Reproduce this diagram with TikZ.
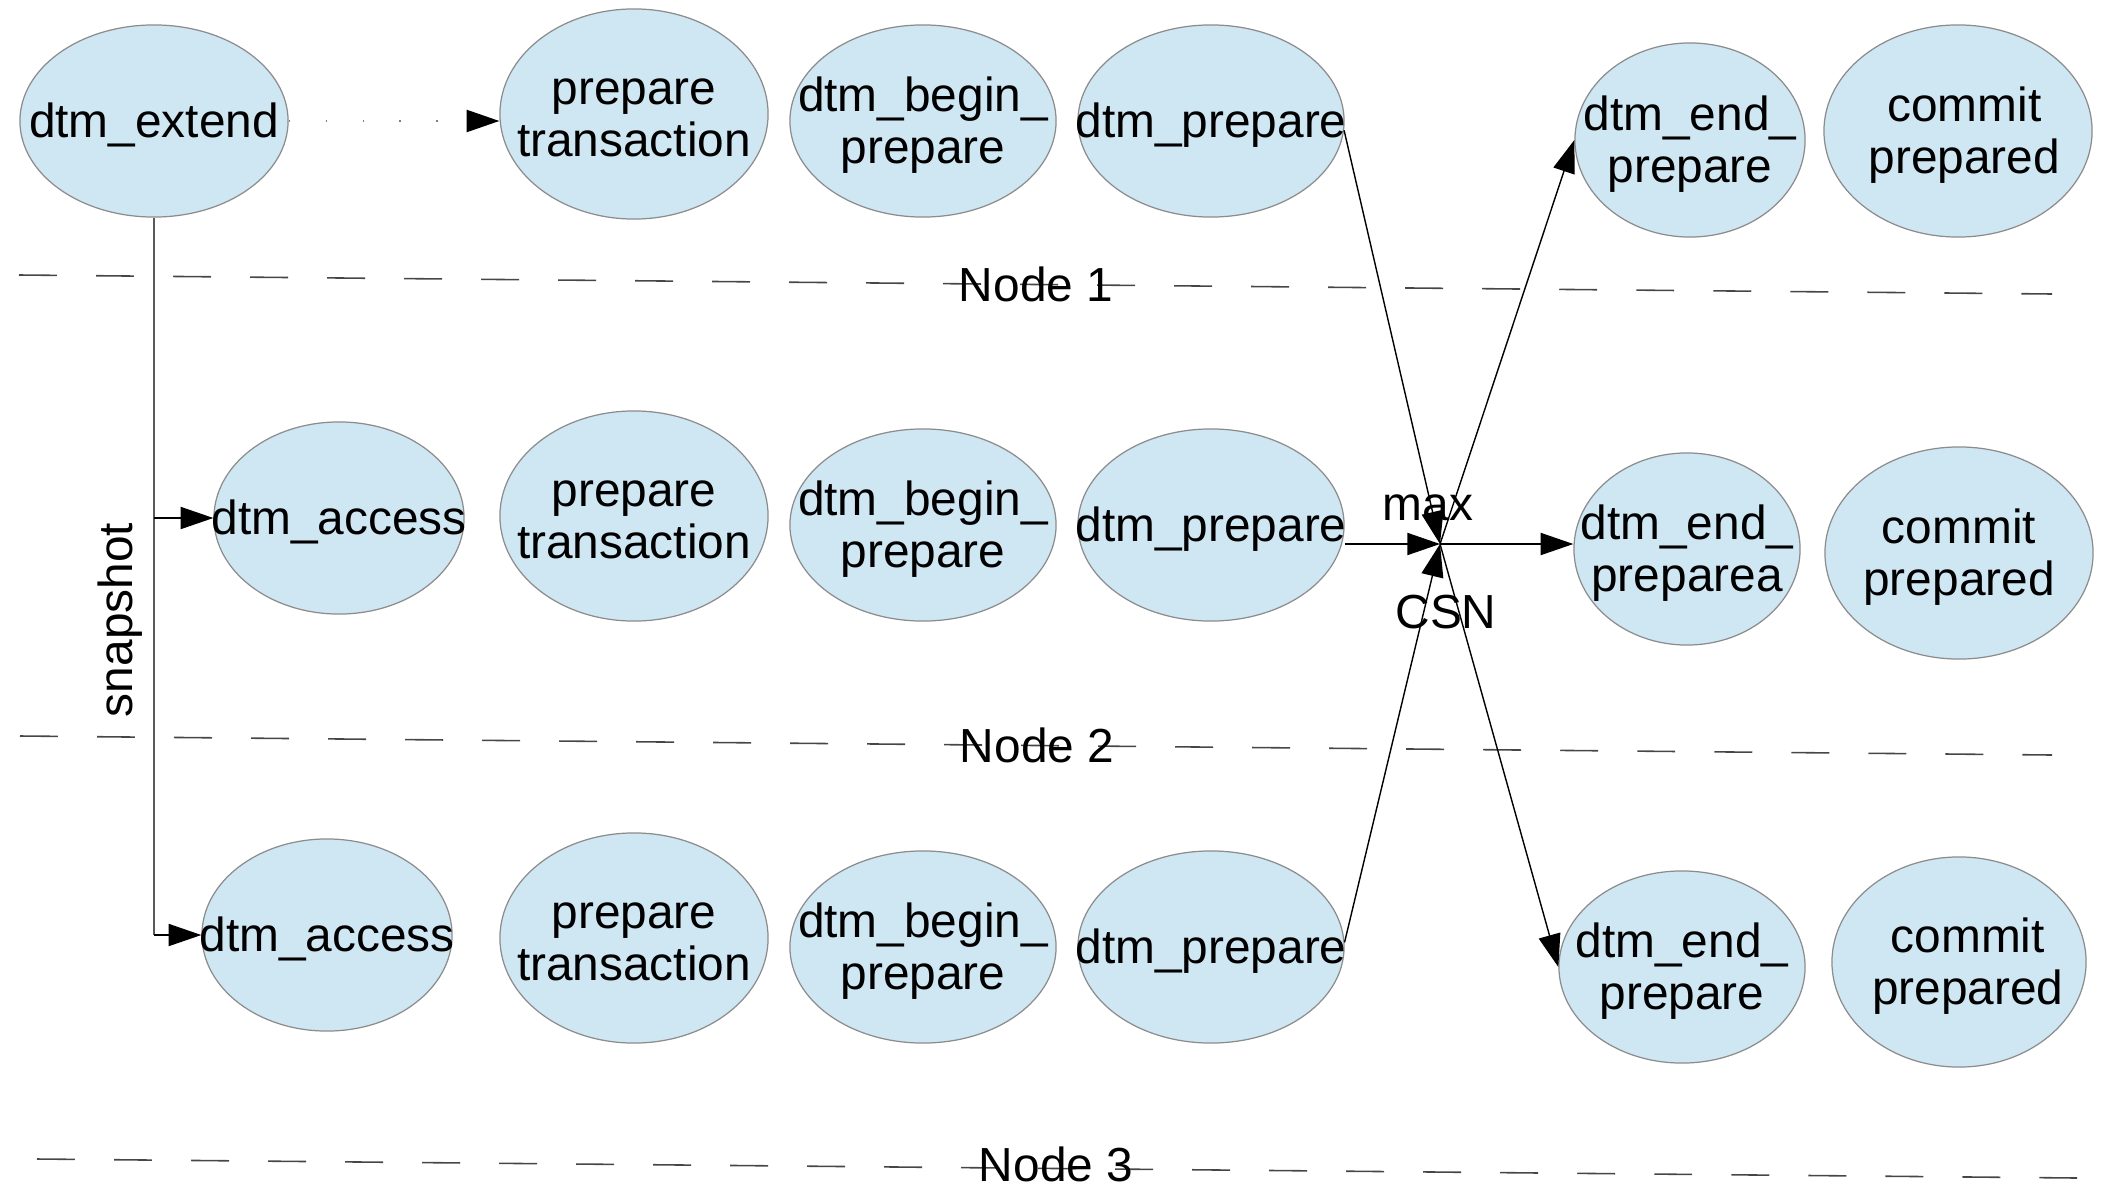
\documentclass[tikz,border=0pt]{standalone}
\usepackage{fontspec}
\setmainfont{Liberation Sans}
\usetikzlibrary{arrows.meta,shapes.geometric}
\definecolor{bubblefill}{RGB}{207,230,243}
\definecolor{rim}{RGB}{140,140,140}
\definecolor{sepline}{RGB}{70,70,70}
\definecolor{trunk}{RGB}{90,90,90}
% centred label of zero width, so the ellipse keeps its given size;
% the extra height on top sets the text a little below the centre,
% the optional argument moves it to the right
\newcommand\btext[2][0pt]{\raisebox{0pt}[\dimexpr\height+3.6pt\relax][\depth]{\makebox[0pt]{\hspace*{\dimexpr2\dimexpr#1\relax\relax}\begin{tabular}{@{}c@{}}#2\end{tabular}}}}

\begin{document}
\begin{tikzpicture}[x=0.01cm,y=-0.01cm,
  every node/.style={font=\fontsize{13.6pt}{14.8pt}\selectfont},
  bub/.style={ellipse, draw=rim, line width=0.35pt, fill=bubblefill, inner sep=0pt},
  sz/.style 2 args={minimum width=#1cm, minimum height=#2cm},
  tip/.style={-{Triangle[length=9.3pt,width=6.3pt,color=black]}},
  conn/.style={tip, draw=black, line width=0.4pt},
  dots/.style={tip, draw=gray, line width=0.5pt, dash pattern=on 0.4pt off 10.1pt},
  sep/.style={draw=sepline, line width=0.45pt, dash pattern=on 10.8pt off 11.1pt},
  lbl/.style={anchor=base, inner sep=0pt}]
\useasboundingbox (0,0) rectangle (2101,1188);

% row 1
\node[bub, sz={2.68}{1.92}] (ext)   at (154,121)  {\btext{dtm\_extend}};
\node[bub, sz={2.68}{2.10}] (prep1) at (634,114)  {\btext{prepare\\transaction}};
\node[bub, sz={2.66}{1.92}] (beg1)  at (923,121)  {\btext{dtm\_begin\_\\prepare}};
\node[bub, sz={2.66}{1.92}] (dp1)   at (1211,121) {\btext{dtm\_prepare}};
\node[bub, sz={2.30}{1.94}] (end1)  at (1690,140) {\btext{dtm\_end\_\\prepare}};
\node[bub, sz={2.68}{2.12}] (com1)  at (1958,131) {\btext[1.8pt]{commit\\prepared}};

% row 2
\node[bub, sz={2.50}{1.92}] (acc2)  at (339,518)  {\btext{dtm\_access}};
\node[bub, sz={2.68}{2.10}] (prep2) at (634,516)  {\btext{prepare\\transaction}};
\node[bub, sz={2.66}{1.92}] (beg2)  at (923,525)  {\btext{dtm\_begin\_\\prepare}};
\node[bub, sz={2.66}{1.92}] (dp2)   at (1211,525) {\btext{dtm\_prepare}};
\node[bub, sz={2.26}{1.92}] (end2)  at (1687,549) {\btext{dtm\_end\_\\preparea}};
\node[bub, sz={2.68}{2.12}] (com2)  at (1959,553) {\btext{commit\\prepared}};

% row 3
\node[bub, sz={2.50}{1.92}] (acc3)  at (327,935)  {\btext{dtm\_access}};
\node[bub, sz={2.68}{2.10}] (prep3) at (634,938)  {\btext{prepare\\transaction}};
\node[bub, sz={2.66}{1.92}] (beg3)  at (923,947)  {\btext{dtm\_begin\_\\prepare}};
\node[bub, sz={2.66}{1.92}] (dp3)   at (1211,947) {\btext{dtm\_prepare}};
\node[bub, sz={2.46}{1.92}] (end3)  at (1682,967) {\btext{dtm\_end\_\\prepare}};
\node[bub, sz={2.54}{2.10}] (com3)  at (1959,962) {\btext[2.5pt]{commit\\prepared}};

% node separators
\coordinate (s1a) at (19,275);   \coordinate (s1b) at (2052,294);
\coordinate (s2a) at (20,736);   \coordinate (s2b) at (2052,755);
\coordinate (s3a) at (37,1159);  \coordinate (s3b) at (2077,1178);
\draw[sep] (s1a) -- (s1b);
\draw[sep] (s2a) -- (s2b);
\draw[sep] (s3a) -- (s3b);
\node[lbl] (n1) at (1036,301)  {Node 1};
\node[lbl] (n2) at (1037,762)  {Node 2};
\node[lbl] (n3) at (1056,1181) {Node 3};

% snapshot distribution
\draw[dots] (ext.east) -- (ext.east -| prep1.west);
\draw[draw=trunk, line width=0.45pt] (ext.south) -- (ext.south |- acc3.west);
\draw[conn] (ext.south |- acc2.west) -- (acc2.west);
\draw[conn] (ext.south |- acc3.west) -- (acc3.west);
\node[rotate=90, lbl] (snap) at (132,620) {snapshot};

% max CSN exchange
\coordinate (X) at (1440,544);
\draw[conn] (dp1.-4) -- (X);
\draw[conn] (X -| dp2.east) -- (X);
\draw[conn] (dp3.2) -- (X);
\draw[conn] (X) -- (end1.west);
\draw[conn] (X) -- (X -| end2.west);
\draw[conn] (X) -- (end3.west);
\node[lbl] (mx)  at (1428,520) {max};
\node[lbl] (csn) at (1446,628) {CSN};
\end{tikzpicture}
\end{document}
